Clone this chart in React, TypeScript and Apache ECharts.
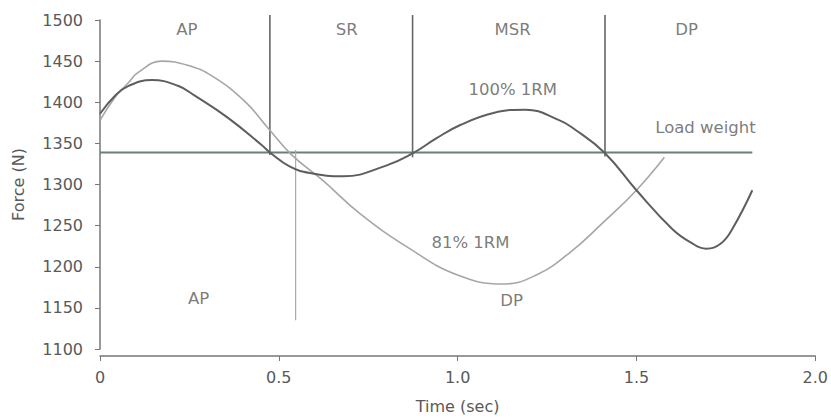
import React, { useEffect, useRef } from "react";
import * as echarts from "echarts";

// 100% 1RM curve: [time (s), force (N)]
const curve100: [number, number][] = [
  [0, 1386], [0.042, 1408], [0.08, 1420], [0.145, 1427], [0.218, 1420], [0.265, 1408],
  [0.358, 1381], [0.452, 1348], [0.475, 1339], [0.53, 1322], [0.587, 1314],
  [0.68, 1310], [0.8, 1323], [0.875, 1338], [0.94, 1356], [1.006, 1372],
  [1.1, 1387], [1.19, 1391], [1.285, 1378], [1.321, 1369],
  [1.41, 1339], [1.5, 1293], [1.6, 1246], [1.65, 1230], [1.695, 1222],
  [1.735, 1228], [1.768, 1246], [1.824, 1293],
];

// 81% 1RM curve
const curve81: [number, number][] = [
  [0, 1378], [0.042, 1406], [0.08, 1424], [0.106, 1436], [0.173, 1450], [0.245, 1445],
  [0.313, 1432], [0.405, 1401], [0.469, 1369], [0.536, 1336], [0.623, 1305],
  [0.726, 1265], [0.866, 1222], [1.0, 1190], [1.126, 1179], [1.22, 1190],
  [1.313, 1217], [1.405, 1253], [1.5, 1293], [1.578, 1333],
];

const loadWeight: [number, number][] = [[0, 1339], [1.824, 1339]];

// phase boundaries: [time, top force, bottom force]
const phaseLines: [number, number, number][] = [
  [0.475, 1506, 1336],
  [0.874, 1506, 1333],
  [1.412, 1506, 1334],
];
const lightLine: [number, number, number] = [0.547, 1342, 1135];

// annotations: [time, force, text]
const annotations: [number, number, string][] = [
  [0.243, 1489, "AP"],
  [0.69, 1489, "SR"],
  [1.154, 1489, "MSR"],
  [1.64, 1489, "DP"],
  [1.154, 1416, "100% 1RM"],
  [1.693, 1369, "Load weight"],
  [1.036, 1229, "81% 1RM"],
  [1.151, 1159, "DP"],
  [0.276, 1161, "AP"],
];

const xTicks = { min: 0, max: 2, interval: 0.5 };
const yTicks = { min: 1100, max: 1500, interval: 50 };

const FONT = "DejaVu Sans, sans-serif";
const TEXT = "#595959";

export default function App() {
  const ref = useRef<HTMLDivElement>(null);
  useEffect(() => {
    if (!ref.current) return;
    const chart = echarts.init(ref.current, undefined, { renderer: "svg" });
    const vSeries = phaseLines.map(([t, top, bot]) => ({
      type: "line",
      data: [[t, top], [t, bot]],
      symbol: "none",
      clip: false,
      lineStyle: { color: "#666", width: 1.6 },
      silent: true,
    }));
    chart.setOption({
      animation: false,
      grid: { left: 100, right: 15, top: 20, bottom: 64 },
      xAxis: {
        type: "value",
        ...xTicks,
        offset: 7,
        name: "Time (sec)",
        nameLocation: "middle",
        nameGap: 42,
        nameTextStyle: { fontSize: 16, color: TEXT, fontFamily: FONT },
        axisLine: { show: true, lineStyle: { color: "#777", width: 1.5 } },
        axisTick: { show: true, length: 5, lineStyle: { color: "#777" } },
        axisLabel: {
          fontSize: 16,
          color: TEXT,
          fontFamily: FONT,
          margin: 13,
          formatter: (v: number) => (v === 0 ? "0" : v.toFixed(1)),
        },
        splitLine: { show: false },
      },
      yAxis: {
        type: "value",
        ...yTicks,
        offset: 4,
        name: "Force (N)",
        nameLocation: "middle",
        nameGap: 70,
        nameRotate: 90,
        nameTextStyle: { fontSize: 16, color: TEXT, fontFamily: FONT },
        axisLine: { show: true, lineStyle: { color: "#777", width: 1.5 } },
        axisTick: { show: true, length: 5, lineStyle: { color: "#777" } },
        axisLabel: {
          fontSize: 16,
          color: TEXT,
          fontFamily: FONT,
          margin: 13,
          formatter: (v: number) => String(v),
        },
        splitLine: { show: false },
      },
      series: [
        {
          type: "line",
          data: loadWeight,
          symbol: "none",
          lineStyle: { color: "#6d7c7c", width: 2 },
        },
        ...vSeries,
        {
          type: "line",
          data: [[lightLine[0], lightLine[1]], [lightLine[0], lightLine[2]]],
          symbol: "none",
          lineStyle: { color: "#aaa", width: 1.2 },
        },
        {
          type: "line",
          data: curve81,
          smooth: 0.45,
          symbol: "none",
          lineStyle: { color: "#a6a6a6", width: 1.6 },
        },
        {
          type: "line",
          data: curve100,
          smooth: 0.45,
          symbol: "none",
          lineStyle: { color: "#5e5e5e", width: 2 },
        },
        {
          type: "scatter",
          data: annotations.map(([t, f, s]) => ({ value: [t, f], name: s })),
          symbolSize: 0,
          label: {
            show: true,
            position: "inside",
            formatter: (p: any) => p.name,
            fontSize: 16.5,
            color: TEXT,
            fontFamily: FONT,
          },
          silent: true,
        },
      ],
    });
    return () => chart.dispose();
  }, []);
  return <div ref={ref} style={{ width: 831, height: 419, position: "absolute", left: 0, top: 0 }} />;
}
